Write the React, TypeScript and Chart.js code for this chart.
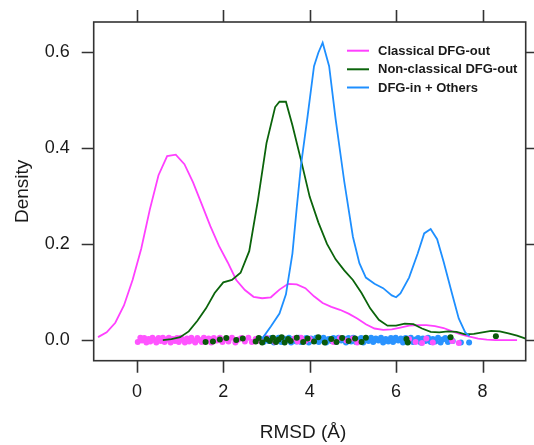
import React, { useEffect, useRef } from "react";
import { Chart, registerables } from "chart.js";

Chart.register(...registerables);

// ---- Density curves (x in Å, y density) ----
const CLASSICAL_X = [-0.9, -0.7, -0.5, -0.3, -0.1, 0.1, 0.3, 0.5, 0.7, 0.9, 1.1, 1.3, 1.5, 1.7, 1.9, 2.1, 2.3, 2.5, 2.7, 2.9, 3.1, 3.3, 3.5, 3.7, 3.9, 4.1, 4.3, 4.5, 4.7, 4.9, 5.1, 5.3, 5.5, 5.7, 5.9, 6.1, 6.3, 6.5, 6.7, 6.9, 7.1, 7.3, 7.5, 7.7, 7.9, 8.1, 8.3, 8.5, 8.7, 8.8];
const CLASSICAL_Y = [0.006, 0.016, 0.036, 0.072, 0.125, 0.19, 0.272, 0.343, 0.383, 0.386, 0.366, 0.328, 0.283, 0.237, 0.196, 0.162, 0.125, 0.104, 0.09, 0.087, 0.089, 0.105, 0.117, 0.116, 0.108, 0.091, 0.077, 0.069, 0.063, 0.055, 0.045, 0.033, 0.024, 0.021, 0.022, 0.026, 0.03, 0.031, 0.031, 0.029, 0.025, 0.018, 0.012, 0.007, 0.003, 0.001, 0.0, 0.0, 0.0, 0.0];

const NONCLASSICAL_X = [0.6, 0.8, 1.0, 1.2, 1.4, 1.6, 1.8, 2.0, 2.2, 2.4, 2.6, 2.8, 3.0, 3.2, 3.3, 3.45, 3.6, 3.8, 4.0, 4.2, 4.4, 4.6, 4.8, 5.0, 5.2, 5.4, 5.6, 5.8, 6.0, 6.2, 6.4, 6.6, 6.8, 7.0, 7.2, 7.4, 7.6, 7.8, 8.0, 8.2, 8.4, 8.6, 8.8, 9.0, 9.1];
const NONCLASSICAL_Y = [0.0, 0.002, 0.006, 0.018, 0.04, 0.066, 0.098, 0.12, 0.125, 0.14, 0.185, 0.29, 0.41, 0.485, 0.496, 0.496, 0.447, 0.374, 0.298, 0.245, 0.2, 0.168, 0.145, 0.125, 0.098, 0.066, 0.042, 0.03, 0.03, 0.034, 0.033, 0.024, 0.017, 0.016, 0.018, 0.017, 0.012, 0.013, 0.016, 0.019, 0.018, 0.014, 0.009, 0.003, 0.001];

const DFGIN_X = [2.9, 3.1, 3.3, 3.45, 3.6, 3.7, 3.8, 3.95, 4.1, 4.2, 4.3, 4.45, 4.6, 4.8, 5.0, 5.15, 5.3, 5.5, 5.7, 5.9, 6.0, 6.1, 6.3, 6.5, 6.65, 6.8, 6.95, 7.1, 7.3, 7.45, 7.6, 7.7];
const DFGIN_Y = [0.003, 0.028, 0.055, 0.095, 0.18, 0.275, 0.365, 0.465, 0.57, 0.598, 0.619, 0.57, 0.46, 0.33, 0.215, 0.16, 0.13, 0.117, 0.108, 0.093, 0.089, 0.097, 0.13, 0.18, 0.222, 0.231, 0.21, 0.163, 0.095, 0.045, 0.016, 0.008];

// ---- Rug (jittered observations) ----
const CLASSICAL_RUG_X = [0.02, 0.08, 0.12, 0.17, 0.22, 0.27, 0.31, 0.36, 0.41, 0.45, 0.5, 0.55, 0.6, 0.64, 0.69, 0.74, 0.78, 0.83, 0.88, 0.93, 0.97, 1.02, 1.07, 1.11, 1.16, 1.21, 1.26, 1.3, 1.35, 1.4, 1.45, 1.5, 1.55, 1.6, 1.66, 1.72, 1.78, 1.85, 1.92, 1.98, 2.05, 2.12, 2.2, 2.28, 2.35, 2.42, 2.5, 2.58, 2.66, 2.75, 2.85, 3.0, 3.2, 3.65, 3.72, 3.8, 3.9, 4.0, 4.55, 4.7, 4.85, 5.0, 5.1, 6.3, 6.45, 6.6, 6.7, 6.85, 7.3, 7.45];
const CLASSICAL_RUG_Y = [-0.004, 0.005, -0.001, 0.004, -0.005, 0.002, -0.003, 0.005, 0.0, -0.005, 0.004, -0.002, 0.005, -0.004, 0.001, 0.005, -0.005, 0.002, -0.002, 0.004, -0.004, 0.005, 0.0, -0.005, 0.003, -0.003, 0.005, -0.001, -0.005, 0.004, 0.0, -0.004, 0.005, -0.002, 0.003, -0.005, 0.004, -0.001, 0.005, -0.004, 0.002, -0.003, 0.005, -0.005, 0.001, 0.004, -0.003, 0.005, -0.004, 0.002, -0.002, 0.004, -0.004, 0.003, -0.003, 0.005, -0.002, 0.002, -0.004, 0.004, -0.001, 0.003, -0.005, 0.002, -0.004, -0.006, 0.003, -0.005, -0.002, -0.006];

const DFGIN_RUG_X = [2.86, 2.93, 2.99, 3.05, 3.11, 3.17, 3.22, 3.28, 3.34, 3.4, 3.46, 3.52, 3.57, 3.63, 3.69, 3.75, 3.8, 3.86, 3.92, 3.98, 4.03, 4.09, 4.15, 4.21, 4.26, 4.32, 4.38, 4.44, 4.5, 4.55, 4.61, 4.67, 4.73, 4.78, 4.84, 4.9, 4.96, 5.01, 5.07, 5.13, 5.19, 5.24, 5.3, 5.36, 5.42, 5.47, 5.53, 5.59, 5.65, 5.7, 5.76, 5.82, 5.88, 5.93, 5.99, 6.05, 6.11, 6.16, 6.22, 6.28, 6.34, 6.39, 6.45, 6.51, 6.57, 6.62, 6.68, 6.74, 6.8, 6.85, 6.91, 6.97, 7.03, 7.08, 7.14, 7.2, 7.26, 7.31, 7.5, 7.69];
const DFGIN_RUG_Y = [0.002, -0.004, 0.005, -0.002, 0.004, -0.005, 0.001, 0.005, -0.004, 0.003, -0.001, 0.005, -0.005, 0.002, -0.003, 0.005, -0.004, 0.001, 0.004, -0.005, 0.003, -0.002, 0.005, -0.004, 0.0, 0.005, -0.005, 0.002, -0.002, 0.004, -0.004, 0.005, -0.001, 0.003, -0.005, 0.004, -0.003, 0.005, -0.004, 0.001, 0.004, -0.005, 0.002, -0.002, 0.005, -0.004, 0.003, -0.001, 0.005, -0.005, 0.002, -0.003, 0.004, -0.004, 0.005, -0.001, 0.003, -0.005, 0.004, -0.002, 0.005, -0.004, 0.001, 0.004, -0.005, 0.003, -0.002, 0.005, -0.004, 0.002, -0.003, 0.005, -0.005, 0.001, 0.004, -0.004, 0.003, -0.002, -0.005, -0.005];

const NONCLASSICAL_RUG_X = [1.59, 1.76, 1.92, 2.07, 2.3, 2.45, 2.75, 2.82, 2.9, 3.0, 3.08, 3.15, 3.22, 3.28, 3.35, 3.42, 3.5, 3.56, 3.7, 3.85, 3.95, 4.1, 4.2, 4.35, 4.5, 4.62, 4.75, 4.9, 5.05, 5.2, 5.3, 6.24, 6.27, 7.26, 8.31];
const NONCLASSICAL_RUG_Y = [-0.004, -0.003, 0.001, 0.004, 0.0, 0.003, -0.003, 0.004, -0.005, 0.002, -0.002, 0.005, -0.004, 0.001, 0.006, -0.005, 0.002, -0.002, 0.005, -0.004, 0.003, -0.003, 0.006, -0.005, 0.002, -0.004, 0.004, -0.002, 0.003, -0.004, 0.005, 0.002, -0.005, 0.006, 0.008];

// ---- Axes / labels ----
const X_TICKS = [0, 2, 4, 6, 8];
const Y_TICKS = [0.0, 0.2, 0.4, 0.6];
const X_MIN = -1;
const X_MAX = 9;
const Y_MIN = -0.043;
const Y_MAX = 0.662;
const X_TITLE = "RMSD (Å)";
const Y_TITLE = "Density";
const SERIES_NAMES = ["Classical DFG-out", "Non-classical DFG-out", "DFG-in + Others"];
const SERIES_COLORS = ["#ff40ff", "#0b640b", "#1e8fff"];
const RUG_COLORS = ["#ff55ff", "#0a5a0a", "#2a93ff"];

const zip = (xs: number[], ys: number[]) => xs.map((x, i) => ({ x, y: ys[i] }));

const framePlugin = {
  id: "latticeFrame",
  afterDraw(chart: any) {
    const ctx = chart.ctx as CanvasRenderingContext2D;
    const { left, right, top, bottom } = chart.chartArea;
    const xs = chart.scales.x;
    const ys = chart.scales.y;
    const tick = 12;
    ctx.save();
    ctx.strokeStyle = "#333";
    ctx.lineWidth = 1.6;
    ctx.strokeRect(left, top, right - left, bottom - top);
    ctx.beginPath();
    X_TICKS.forEach((v) => {
      const px = Math.round(xs.getPixelForValue(v)) + 0.5;
      ctx.moveTo(px, bottom);
      ctx.lineTo(px, bottom + tick);
      ctx.moveTo(px, top);
      ctx.lineTo(px, top - tick);
    });
    Y_TICKS.forEach((v) => {
      const py = Math.round(ys.getPixelForValue(v)) + 0.5;
      ctx.moveTo(left, py);
      ctx.lineTo(left - tick, py);
      ctx.moveTo(right, py);
      ctx.lineTo(right + tick, py);
    });
    ctx.stroke();

    ctx.fillStyle = "#1a1a1a";
    ctx.font = '18px "Liberation Sans", Arial, sans-serif';
    ctx.textAlign = "center";
    ctx.textBaseline = "middle";
    X_TICKS.forEach((v) => {
      ctx.fillText(String(v), xs.getPixelForValue(v), bottom + 31);
    });
    ctx.textAlign = "right";
    Y_TICKS.forEach((v) => {
      ctx.fillText(v.toFixed(1), left - 24, ys.getPixelForValue(v));
    });

    ctx.font = '19px "Liberation Sans", Arial, sans-serif';
    ctx.textAlign = "center";
    ctx.fillText(X_TITLE, 303, 433);
    ctx.save();
    ctx.translate(23, (top + bottom) / 2);
    ctx.rotate(-Math.PI / 2);
    ctx.fillText(Y_TITLE, 0, 0);
    ctx.restore();

    // legend
    ctx.font = 'bold 13px "Liberation Sans", Arial, sans-serif';
    ctx.textAlign = "left";
    const rows = [50.7, 69.3, 87.5];
    SERIES_NAMES.forEach((name, i) => {
      ctx.strokeStyle = SERIES_COLORS[i];
      ctx.lineWidth = 2;
      ctx.beginPath();
      ctx.moveTo(347, rows[i]);
      ctx.lineTo(369, rows[i]);
      ctx.stroke();
      ctx.fillStyle = "#1a1a1a";
      ctx.fillText(name, 378, rows[i] + 0.5);
    });
    ctx.restore();
  },
};

export default function App() {
  const ref = useRef<HTMLCanvasElement | null>(null);
  useEffect(() => {
    if (!ref.current) return;
    const lineDs = (label: string, data: any[], color: string) => ({
      label,
      data,
      showLine: true,
      borderColor: color,
      backgroundColor: color,
      borderWidth: 1.8,
      pointRadius: 0,
      tension: 0,
      fill: false,
    });
    const rugDs = (label: string, data: any[], color: string) => ({
      label,
      data,
      showLine: false,
      borderWidth: 0,
      backgroundColor: color,
      borderColor: color,
      pointRadius: 3,
      pointBorderWidth: 0,
    });
    const chart = new Chart(ref.current, {
      type: "scatter",
      data: {
        datasets: [
          lineDs(SERIES_NAMES[2], zip(DFGIN_X, DFGIN_Y), SERIES_COLORS[2]),
          lineDs(SERIES_NAMES[1], zip(NONCLASSICAL_X, NONCLASSICAL_Y), SERIES_COLORS[1]),
          lineDs(SERIES_NAMES[0], zip(CLASSICAL_X, CLASSICAL_Y), SERIES_COLORS[0]),
          rugDs("rug-nc", zip(NONCLASSICAL_RUG_X, NONCLASSICAL_RUG_Y), RUG_COLORS[1]),
          rugDs("rug-c", zip(CLASSICAL_RUG_X, CLASSICAL_RUG_Y), RUG_COLORS[0]),
          rugDs("rug-in", zip(DFGIN_RUG_X, DFGIN_RUG_Y), RUG_COLORS[2]),
        ] as any,
      },
      options: {
        responsive: false,
        animation: false,
        layout: { padding: { left: 93.7, right: 8.3, top: 22, bottom: 84.3 } },
        scales: {
          x: { type: "linear", min: X_MIN, max: X_MAX, display: false },
          y: { type: "linear", min: Y_MIN, max: Y_MAX, display: false },
        },
        plugins: { legend: { display: false }, tooltip: { enabled: false } },
      },
      plugins: [framePlugin],
    });
    return () => chart.destroy();
  }, []);
  return (
    <div style={{ position: "fixed", left: 0, top: 0, width: 534, height: 445, background: "#fff" }}>
      <canvas ref={ref} width={534} height={445} />
    </div>
  );
}
